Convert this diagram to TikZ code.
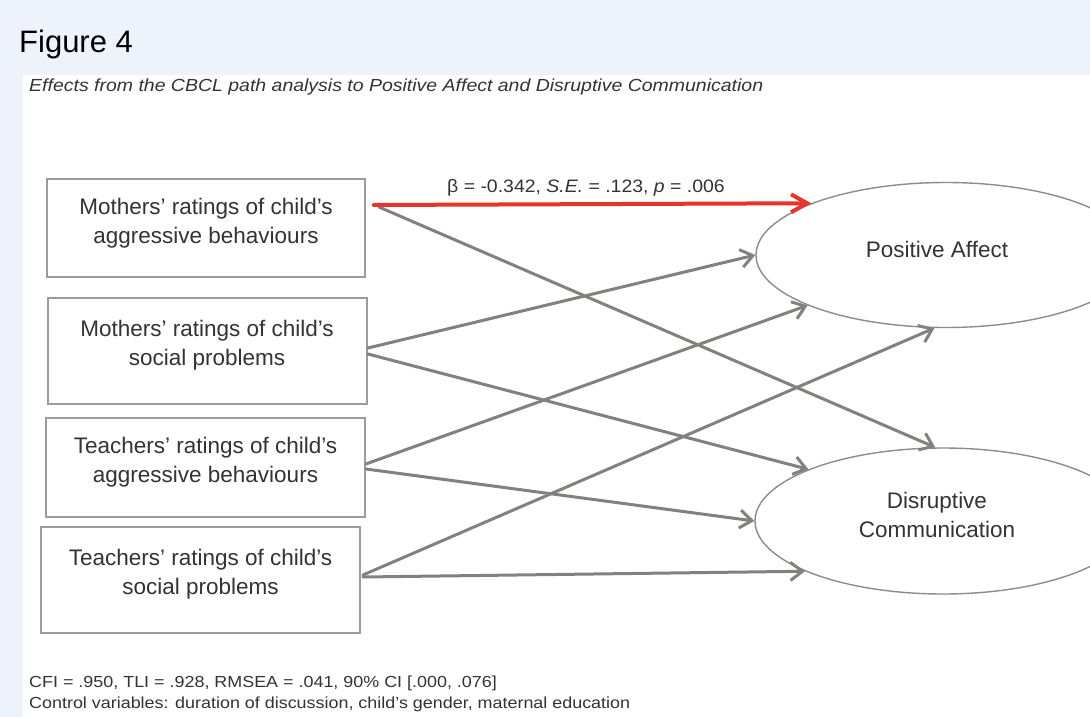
\documentclass[tikz,border=0pt]{standalone}
\usepackage{fontspec}
\setmainfont{Liberation Sans}
\usetikzlibrary{arrows.meta,shapes.geometric}
\definecolor{bgblue}{HTML}{EEF2FA}
\definecolor{arrgray}{HTML}{7F827D}
\definecolor{boxgray}{HTML}{9C9C9C}
\definecolor{ellgray}{HTML}{8C8C8C}
\definecolor{txtgray}{HTML}{333333}
\definecolor{redarr}{HTML}{E8352C}
\begin{document}
\begin{tikzpicture}[x=1pt,y=-1pt,
  box/.style={draw=boxgray, line width=1.8pt, inner sep=0pt},
  ell/.style={ellipse, draw=ellgray, line width=1.4pt, inner sep=0pt},
  lbl/.style={font=\fontsize{22.5}{28.5}\selectfont, text=txtgray, align=center, anchor=base, inner sep=0pt},
  note/.style={font=\fontsize{16}{21}\selectfont, text=txtgray, anchor=base west, inner sep=0pt},
  patharrow/.style={draw=arrgray, line width=3pt, line cap=round, -{Straight Barb[length=12pt,width=18pt]}},
  redarrow/.style={draw=redarr, line width=4pt, line cap=round, -{Straight Barb[length=16pt,width=18pt]}}
]
\useasboundingbox (0,0) rectangle (1090,717);
\fill[bgblue] (0,0) rectangle (1090,717);
\fill[white] (23,75) rectangle (1090,717);

% title and caption
\node[anchor=base west, inner sep=0pt, font=\fontsize{31}{36}\selectfont] (title) at (19,53) {Figure 4};
\node[anchor=base west, inner sep=0pt, text=txtgray, font=\fontsize{17.5}{20}\selectfont\itshape] (caption) at (29,92) {\scalebox{1.113}[1]{Effects from the CBCL path analysis to Positive Affect and Disruptive Communication}};

% boxes
\node[box, minimum width=318pt, minimum height=98pt] (m1) at (206,228) {};
\node[box, minimum width=319pt, minimum height=106pt] (m2) at (207.5,351) {};
\node[box, minimum width=319pt, minimum height=99pt] (m3) at (205.5,467.5) {};
\node[box, minimum width=319pt, minimum height=106pt] (m4) at (200.5,580) {};

\node[lbl] (m1t) at (206,243) {Mothers’ ratings of child’s\\aggressive behaviours};
\node[lbl] (m2t) at (207,365) {Mothers’ ratings of child’s\\social problems};
\node[lbl] (m3t) at (205.5,482) {Teachers’ ratings of child’s\\aggressive behaviours};
\node[lbl] (m4t) at (200.5,594) {Teachers’ ratings of child’s\\social problems};

% ellipses
\node[ell, minimum width=380pt, minimum height=145pt] (pa) at (946,255) {};
\node[ell, minimum width=376pt, minimum height=146pt] (dc) at (943,521) {};
\node[lbl] (pat) at (937,257) {Positive Affect};
\node[lbl] (dct) at (937,537) {Disruptive\\Communication};

% start points
\coordinate (s1r) at ([shift={(8,-23)}]m1.east);
\coordinate (s1g) at ([shift={(13,-21)}]m1.east);
\coordinate (s2a) at ([shift={(0,-3)}]m2.east);
\coordinate (s2b) at ([shift={(0,3)}]m2.east);
\coordinate (s3a) at ([shift={(0,-3.5)}]m3.east);
\coordinate (s3b) at ([shift={(0,1.5)}]m3.east);
\coordinate (s4a) at ([shift={(2,-5)}]m4.east);
\coordinate (s4b) at ([shift={(2,-3)}]m4.east);

% paths
\draw[patharrow] (s1g) -- (dc.96.3);
\draw[patharrow] (s2a) -- (pa.180.6);
\draw[patharrow] (s2b) -- (dc.159.6);
\draw[patharrow] (s3a) -- (pa.200.5);
\draw[patharrow] (s3b) -- (dc.180.3);
\draw[patharrow] (s4a) -- (pa.261.7);
\draw[patharrow] (s4b) -- (dc.200.8);
\draw[redarrow] (s1r) -- (pa.159.4);

\node[anchor=base west, inner sep=0pt, text=txtgray, font=\fontsize{18}{20}\selectfont] (beta) at (447,192) {\scalebox{1.08}[1]{β = -0.342, \textit{S.E.} = .123, \textit{p} = .006}};

% notes
\node[note] (fit) at (29,687) {\scalebox{1.12}[1]{CFI = .950, TLI = .928, RMSEA = .041, 90\% CI [.000, .076]}};
\node[note] (ctrl) at (29,708) {\scalebox{1.12}[1]{Control variables: duration of discussion, child’s gender, maternal education}};
\end{tikzpicture}
\end{document}
